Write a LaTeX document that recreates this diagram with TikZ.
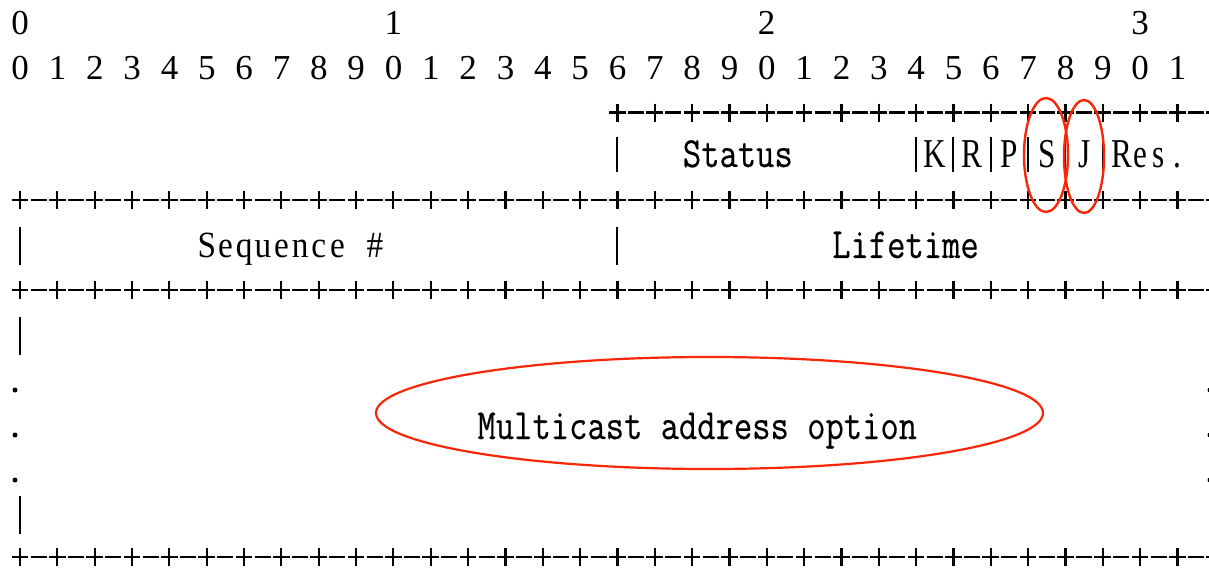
\documentclass[tikz,border=0pt]{standalone}
\usepackage{fontspec}
\usetikzlibrary{shapes.geometric}
\setmainfont{Liberation Serif}
\newfontfamily\monotext[FakeStretch=0.827, FakeBold=0.3]{Latin Modern Mono}
\newfontfamily\serifnarrow[FakeStretch=0.76]{Liberation Serif}
\newfontfamily\serifseq[FakeStretch=0.9]{Liberation Serif}
\definecolor{ringred}{RGB}{250,38,8}

% one character per fixed-width cell, as on a character grid
\newlength\cellw
\setlength\cellw{18.667pt}
\def\gridchars#1{\gridcharsA#1\relax}
\def\gridcharsA#1{\ifx\relax#1\else\makebox[\cellw][c]{#1}\expandafter\gridcharsA\fi}

\tikzset{
  rulerdigit/.style={font=\fontsize{35}{37}\selectfont, inner sep=0pt, anchor=base},
  rulerrow/.style={font=\fontsize{35}{37}\selectfont, inner sep=0pt, anchor=base west},
  monolabel/.style={font=\monotext\fontsize{43}{46}\selectfont, inner sep=0pt, anchor=base west},
  seqlabel/.style={font=\serifseq\fontsize{37}{40}\selectfont, inner sep=0pt, anchor=base west},
  flaglabel/.style={font=\serifnarrow\fontsize{41}{44}\selectfont, inner sep=0pt, anchor=base west},
  frameline/.style={line width=2.6pt, black},
  frametick/.style={line width=2.3pt, black},
  framebar/.style={line width=2.2pt, black},
  ring/.style={ellipse, draw=ringred, line width=2.4pt, inner sep=0pt},
}

\begin{document}
\begin{tikzpicture}[x=1pt, y=-1pt]
  \useasboundingbox (0,0) rectangle (1209,569);
  \fill[white] (0,0) rectangle (1209,569);

  % bit-number ruler: cell c has its centre at x = 20 + 18.667 c
  \node[rulerdigit] (tens0) at (20,35) {0};
  \node[rulerdigit] (tens1) at (393.33,35) {1};
  \node[rulerdigit] (tens2) at (766.67,35) {2};
  \node[rulerdigit] (tens3) at (1140,35) {3};
  \node[rulerrow] (units) at (10.667,80)
    {\gridchars{0~1~2~3~4~5~6~7~8~9~0~1~2~3~4~5~6~7~8~9~0~1~2~3~4~5~6~7~8~9~0~1}};

  % +-+- separator rows: '+' on even cells, '-' on odd cells
  \foreach \yy/\first in {112.7/32, 200/0, 290/0, 557/0}{
    \foreach \c in {\first,...,64}{
      \pgfmathsetmacro\cx{20+18.667*\c}
      \ifodd\c
        \draw[frameline] (\cx-8,\yy) -- (\cx+8,\yy);
      \else
        \draw[frameline] (\cx-8.3,\yy) -- (\cx+8.3,\yy);
        \draw[frametick] (\cx,\yy-9) -- (\cx,\yy+9);
      \fi
    }
  }

  % '|' field borders
  \foreach \c in {32,48,50,52,54,56,58}{
    \draw[framebar] (20+18.667*\c,137) -- (20+18.667*\c,172);
  }
  \foreach \c in {0,32}{
    \draw[framebar] (20+18.667*\c,227) -- (20+18.667*\c,265);
  }
  \draw[framebar] (20,317) -- (20,355);
  \draw[framebar] (20,496) -- (20,534);

  % '.' continuation marks of the variable-length part
  \foreach \yy in {390,435,480}{
    \fill (15,\yy) circle (2.5);
    \fill (1210,\yy) circle (2.5);
  }

  % field names
  \node[monolabel] (status) at (682.67,167) {Status};
  \node[flaglabel] (flagk) at (925.33,168) {\gridchars{K}};
  \node[flaglabel] (flagr) at (962.67,168) {\gridchars{R}};
  \node[flaglabel] (flagp) at (1000,168) {\gridchars{P}};
  \node[flaglabel] (flags) at (1037.33,168) {\gridchars{S}};
  \node[flaglabel] (flagj) at (1074.67,168) {\gridchars{J}};
  \node[flaglabel] (reserved) at (1112,168) {\gridchars{Res.}};
  \node[seqlabel] (seqno) at (197.33,258) {\gridchars{Sequence~\#}};
  \node[monolabel] (lifetime) at (832,258) {Lifetime};
  \node[monolabel] (mcast) at (477.33,439) {Multicast address option};

  % highlight rings
  \node[ring, minimum width=44pt, minimum height=114pt] (rings) at (1046,155) {};
  \node[ring, minimum width=40pt, minimum height=113pt] (ringj) at (1084,156.5) {};
  \node[ring, line width=2.2pt, minimum width=667pt, minimum height=112pt] (ringopt) at (709.5,413) {};
\end{tikzpicture}
\end{document}
